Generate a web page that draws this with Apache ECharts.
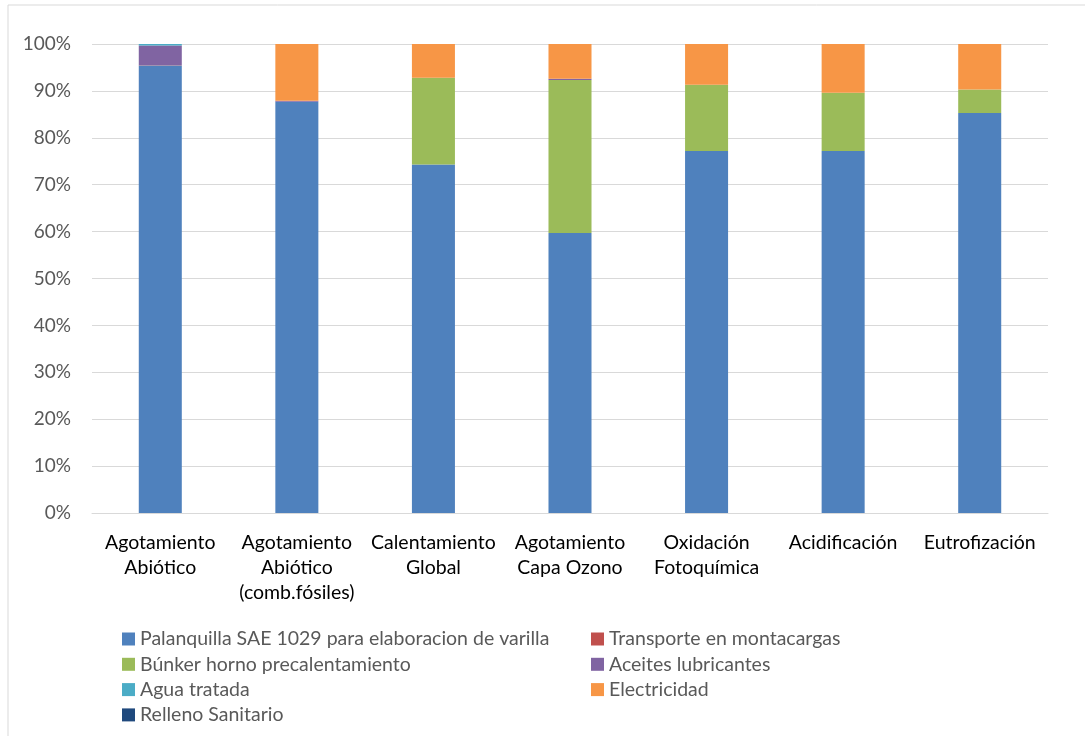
<!DOCTYPE html>
<html><head><meta charset="utf-8">
<script src="https://cdn.jsdelivr.net/npm/echarts@6/dist/echarts.min.js"></script>
<style>html,body{margin:0;padding:0;background:#fff}#c{width:1085px;height:736px}</style>
</head><body><div id="c"></div>
<script>
const categories = ["Agotamiento\nAbiótico", "Agotamiento\nAbiótico\n(comb.fósiles)", "Calentamiento\nGlobal", "Agotamiento\nCapa Ozono", "Oxidación\nFotoquímica", "Acidificación", "Eutrofización"];
const palanquilla = [95.4, 87.7, 74.3, 59.7, 77.2, 77.2, 85.3];
const transporte = [0.05, 0, 0, 0, 0, 0, 0];
const bunker = [0, 0, 18.5, 32.6, 14.1, 12.4, 5.0];
const aceites = [4.25, 0.2, 0, 0.3, 0, 0, 0];
const agua = [0.3, 0, 0, 0, 0, 0, 0];
const electricidad = [0, 12.1, 7.2, 7.4, 8.7, 10.4, 9.7];
const relleno = [0, 0, 0, 0, 0, 0, 0];
const yTicks = [0, 10, 20, 30, 40, 50, 60, 70, 80, 90, 100];

const names = ["Palanquilla SAE 1029 para elaboracion de varilla", "Transporte en montacargas", "Búnker horno precalentamiento", "Aceites lubricantes", "Agua tratada", "Electricidad", "Relleno Sanitario"];
const colors = ["#4F81BD", "#C0504D", "#9BBB59", "#8064A2", "#4BACC6", "#F79646", "#1F497D"];
const datas = [palanquilla, transporte, bunker, aceites, agua, electricidad, relleno];
const FONT = "Lato, 'Open Sans', sans-serif";

const chart = echarts.init(document.getElementById('c'));
const legText = {fontSize: 19.5, lineHeight: 20, color: '#595959', fontFamily: FONT};
chart.setOption({
  animation: false,
  textStyle: {fontFamily: FONT},
  graphic: [{type: 'rect', shape: {x: 8, y: 5, width: 1200, height: 900}, style: {fill: 'none', stroke: '#d9d9d9', lineWidth: 1}, silent: true, z: -1}],
  grid: {left: 92, right: 37, top: 44, bottom: 223},
  legend: [
    {left: 117, top: 624, orient: 'vertical', itemGap: 5.3, itemWidth: 13, itemHeight: 13, icon: 'rect',
     data: [names[0], names[2], names[4], names[6]], textStyle: legText},
    {left: 586, top: 624, orient: 'vertical', itemGap: 5.3, itemWidth: 13, itemHeight: 13, icon: 'rect',
     data: [names[1], names[3], names[5]], textStyle: legText}
  ],
  xAxis: {type: 'category', data: categories,
    axisLine: {lineStyle: {color: '#d9d9d9'}}, axisTick: {show: false},
    axisLabel: {fontSize: 19.5, color: '#000', lineHeight: 25, margin: 17, interval: 0, fontFamily: FONT}},
  yAxis: {type: 'value', min: 0, max: 100, interval: 10,
    axisLabel: {formatter: v => yTicks.includes(v) ? v + '%' : '', fontSize: 19, color: '#595959', margin: 21, fontFamily: FONT},
    splitLine: {lineStyle: {color: '#d9d9d9'}}, axisLine: {show: false}, axisTick: {show: false}},
  series: names.map((n, i) => ({name: n, type: 'bar', stack: 'a', data: datas[i], barWidth: '31.5%',
    itemStyle: {color: colors[i]}}))
});
</script></body></html>
